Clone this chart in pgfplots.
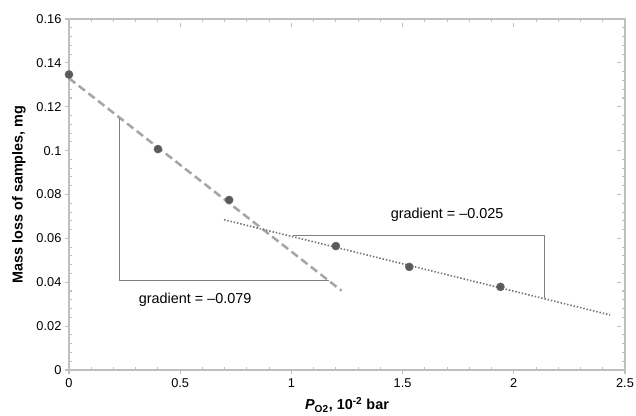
\documentclass[border=0pt]{standalone}
\usepackage{fontspec}
\setmainfont{Liberation Sans}
\usepackage{pgfplots}
\pgfplotsset{compat=1.18}
\definecolor{axgray}{HTML}{BFBFBF}
\definecolor{markfill}{HTML}{5A5A5A}
\definecolor{dashgray}{HTML}{A6A6A6}
\definecolor{dotgray}{HTML}{737373}
\definecolor{trigray}{HTML}{7F7F7F}
\begin{document}
\fontsize{9}{11}\selectfont
\begin{tikzpicture}
\useasboundingbox (-51.75pt,-33.75pt) rectangle (425.25pt,277.5pt);
\begin{axis}[
  at={(0,0)}, anchor=south west,
  scale only axis, width=417pt, height=263.25pt,
  xmin=0, xmax=2.5, ymin=0, ymax=0.16,
  xtick={0,0.5,1,1.5,2,2.5},
  ytick={0,0.02,0.04,0.06,0.08,0.1,0.12,0.14,0.16},
  xticklabels={0,0.5,1,1.5,2,2.5},
  yticklabels={0,0.02,0.04,0.06,0.08,0.1,0.12,0.14,0.16},
  minor x tick num=4, minor y tick num=4,
  tick align=inside,
  major tick length=3pt, minor tick length=2.5pt,
  every major x tick/.append style={yshift=-3pt},
  every major y tick/.append style={xshift=-3pt},
  axis line style={axgray, line width=0.9pt},
  every tick/.style={axgray, line width=0.8pt},
  tick label style={font=\fontsize{9.6}{11}\selectfont, text=black},
  xticklabel style={yshift=-3pt},
  yticklabel style={xshift=-2.5pt},
  /pgf/number format/assume math mode=true,
  xlabel={\bfseries\itshape P\textsubscript{\upshape O2}\upshape, 10\textsuperscript{-2} bar},
  ylabel={\bfseries Mass loss of samples, mg},
  label style={font=\fontsize{10.8}{12}\selectfont},
  xlabel style={yshift=-1.5pt},
  ylabel style={yshift=2pt},
  clip=false,
]
% trend line 1 (dashed)
\addplot[dashgray, line width=1.9pt, dash pattern=on 6pt off 3.2pt, forget plot]
  coordinates {(0,0.1330) (1.225,0.0362)};
% trend line 2 (dotted)
\addplot[dotgray, line width=1.2pt, dash pattern=on 1.1pt off 1.4pt, forget plot]
  coordinates {(0.697,0.0685) (2.433,0.0251)};
% gradient triangles
\addplot[trigray, line width=0.75pt, forget plot]
  coordinates {(0.229,0.1149) (0.229,0.0408) (1.17,0.0408)};
\addplot[trigray, line width=0.75pt, forget plot]
  coordinates {(1.007,0.0615) (2.14,0.0615) (2.14,0.0326)};
% data
\addplot[only marks, mark=*, mark size=3pt,
  mark options={fill=markfill, draw=gray!80!black, line width=0.4pt}]
  coordinates {(0,0.1347) (0.40,0.1007) (0.72,0.0775) (1.20,0.0565) (1.53,0.0470) (1.94,0.0379)};
\node[font=\fontsize{10.8}{12}\selectfont] at (axis cs:0.567,0.0318) {gradient = –0.079};
\node[font=\fontsize{10.8}{12}\selectfont] at (axis cs:1.70,0.0706) {gradient = –0.025};
\end{axis}
\end{tikzpicture}
\end{document}
